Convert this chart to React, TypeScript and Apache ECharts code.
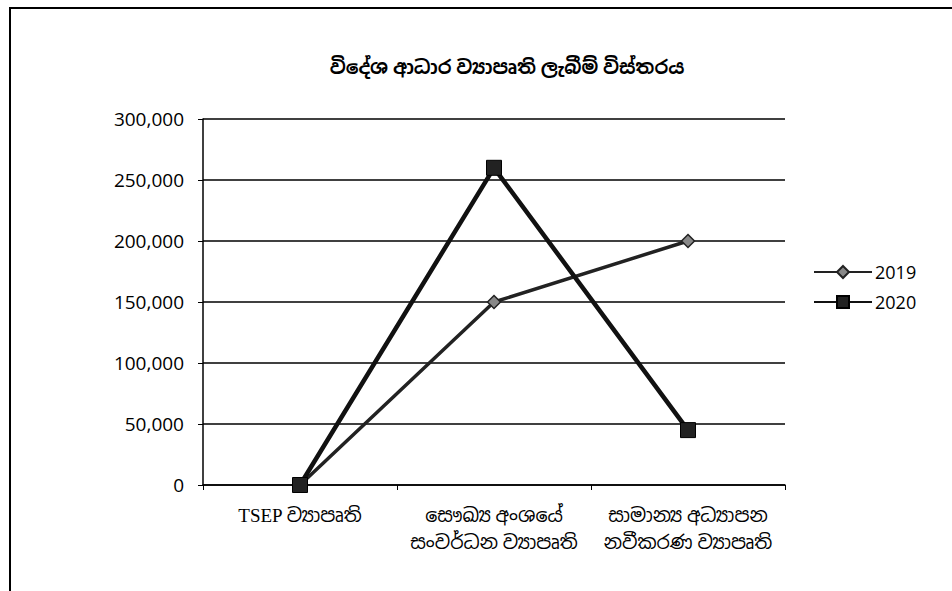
import React, { useEffect, useRef } from "react";
import * as echarts from "echarts";

const titleText = "විදේශ ආධාර ව්‍යාපෘති ලැබීම් විස්තරය";
const categories = [
  "TSEP ව්‍යාපෘති",
  "සෞඛ්‍ය අංශයේ\nසංවර්ධන ව්‍යාපෘති",
  "සාමාන්‍ය අධ්‍යාපන\nනවීකරණ ව්‍යාපෘති",
];
const seriesNames = ["2019", "2020"];
const values2019 = [0, 150000, 200000];
const values2020 = [0, 260000, 45000];
const yTicks = { min: 0, max: 300000, interval: 50000 };

const sinhalaFont = '"Liberation Serif", "Noto Sans Sinhala", "Iskoola Pota", "Noto Sans", serif';
const numFont = '"Open Sans", "Liberation Sans", sans-serif';

export default function App() {
  const ref = useRef<HTMLDivElement>(null);
  useEffect(() => {
    if (!ref.current) return;
    const chart = echarts.init(ref.current, null, { renderer: "svg" });
    chart.setOption({
      animation: false,
      backgroundColor: "#ffffff",
      title: {
        text: titleText,
        left: 502,
        top: 53,
        textAlign: "center",
        textStyle: { fontFamily: sinhalaFont, fontSize: 19, fontWeight: "bold", color: "#000" },
      },
      graphic: [
        {
          type: "rect",
          shape: { x: 10, y: 8, width: 960, height: 600 },
          style: { fill: "none", stroke: "#000", lineWidth: 2 },
          silent: true,
        },
      ],
      legend: {
        orient: "vertical",
        left: 808,
        top: 258,
        itemGap: 12,
        itemWidth: 58,
        itemHeight: 15,
        data: seriesNames,
        textStyle: { fontFamily: numFont, fontSize: 18, color: "#000", padding: [0, 0, 0, -2] },
      },
      grid: { left: 203, top: 119, right: 167, bottom: 106, containLabel: false },
      xAxis: {
        type: "category",
        data: categories,
        boundaryGap: true,
        axisLine: { lineStyle: { color: "#000", width: 1.5 } },
        axisTick: { show: true, length: 5, lineStyle: { color: "#000" } },
        axisLabel: {
          color: "#000",
          fontFamily: sinhalaFont,
          fontSize: 19,
          lineHeight: 27,
          margin: 17,
          interval: 0,
        },
        splitLine: { show: false },
      },
      yAxis: {
        type: "value",
        min: yTicks.min,
        max: yTicks.max,
        interval: yTicks.interval,
        axisLine: { show: true, lineStyle: { color: "#000", width: 1.5 } },
        axisTick: { show: true, length: 5, lineStyle: { color: "#000" } },
        axisLabel: {
          color: "#000",
          fontFamily: numFont,
          fontSize: 19,
          margin: 19,
          formatter: (v: number) => v.toLocaleString("en-US"),
        },
        splitLine: { show: true, lineStyle: { color: "#000", width: 1.5 } },
      },
      series: [
        {
          name: seriesNames[0],
          type: "line",
          data: values2019,
          symbol: "diamond",
          symbolSize: 13,
          lineStyle: { color: "#222", width: 3.5 },
          itemStyle: { color: "#888", borderColor: "#222", borderWidth: 1.5 },
          z: 3,
        },
        {
          name: seriesNames[1],
          type: "line",
          data: values2020,
          symbol: "rect",
          symbolSize: 15,
          lineStyle: { color: "#111", width: 4.5 },
          itemStyle: { color: "#222", borderColor: "#000", borderWidth: 1 },
          z: 4,
        },
      ],
    });
    return () => chart.dispose();
  }, []);
  return (
    <div
      ref={ref}
      style={{ position: "fixed", left: 0, top: 0, width: 952, height: 591 }}
    />
  );
}
